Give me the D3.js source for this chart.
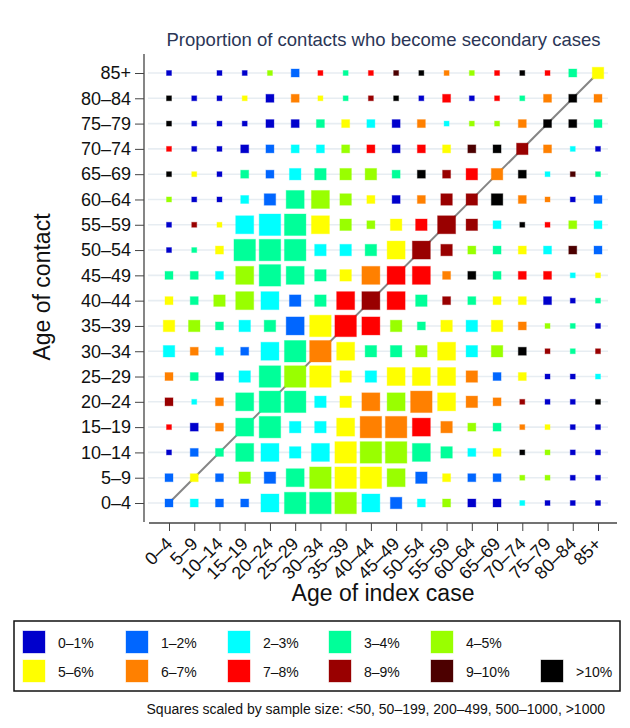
<!DOCTYPE html>
<html>
<head>
<meta charset="utf-8">
<script src="https://cdn.jsdelivr.net/npm/d3@7"></script>
<style>
  body { margin: 0; background: #fff; }
  text { font-family: "Liberation Sans", Arial, Helvetica, sans-serif; }
</style>
</head>
<body>
<div id="plot"></div>
<script>
// age groups, used for both axes
const ageGroups = ["0–4", "5–9", "10–14", "15–19", "20–24", "25–29", "30–34", "35–39", "40–44",
    "45–49", "50–54", "55–59", "60–64", "65–69", "70–74", "75–79", "80–84", "85+"];

const colourBins = ["0–1%", "1–2%", "2–3%", "3–4%", "4–5%", "5–6%", "6–7%", "7–8%", "8–9%", "9–10%", ">10%"];
const binColours = ["#0000cc", "#0066ff", "#00ffff", "#00ff99", "#99ff00", "#ffff00",
    "#ff8000", "#ff0000", "#990000", "#4c0000", "#000000"];

const sizeBins = ["<50", "50–199", "200–499", "500–1000", ">1000"];

// proportion bin (index into colourBins), one row per contact age group (0–4 first),
// one column per index case age group; -1 = no data
const proportionBin = [
    [1, 2, 1, 1, 2, 3, 3, 4, 2, 1, 2, 4, 0, 0, 2, 0, 0, 0],
    [1, 5, 1, 4, 1, 3, 4, 5, 5, 4, 1, 5, 1, 1, 4, 4, 0, 0],
    [0, 1, 3, 3, 2, 2, 2, 5, 4, 4, 3, 3, 2, 5, 10, 4, 0, 0],
    [7, 0, 6, 3, 3, 2, 2, 5, 6, 6, 7, 6, 4, 3, 6, 5, 0, 0],
    [8, 2, 6, 3, 3, 3, 2, 5, 6, 4, 6, 5, 6, 6, 8, 0, 0, 10],
    [6, 3, 0, 2, 3, 4, 5, 5, 2, 5, 5, 5, 6, 1, 5, 0, 0, 2],
    [2, 6, 2, 1, 2, 3, 6, 5, 3, 3, 4, 5, 2, 4, 10, 8, 3, 8],
    [5, 4, 3, 2, 3, 1, 5, 7, 7, 4, 3, 5, 2, 5, 6, 4, 3, 0],
    [5, 3, 4, 4, 2, 1, 3, 7, 8, 7, 3, 8, 3, 5, 5, 0, 0, 3],
    [3, 3, 2, 4, 3, 3, 3, 5, 6, 7, 7, 6, 10, 3, 7, 7, 2, 5],
    [0, 3, 5, 3, 3, 3, 2, 2, 3, 5, 8, 8, 4, 3, 5, 2, 9, 1],
    [0, 8, 5, 2, 2, 3, 5, 4, 4, 5, 7, 8, 8, 2, 10, 7, 4, 2],
    [4, 0, 0, 2, 1, 3, 4, 4, 5, 0, 6, 8, 8, 10, 6, 6, 0, 1],
    [10, 5, 0, 3, 1, 2, 3, 4, 4, 3, 10, 8, 7, 6, 10, 2, 9, 3],
    [7, 0, 0, 0, 1, 2, 2, 4, 7, 0, 7, 5, 9, 10, 8, 6, 2, 0],
    [10, 0, 0, 0, 0, 0, 3, 5, 2, 0, 6, 2, 4, 4, 6, 10, 10, 3],
    [10, 0, 0, 5, 0, 6, 5, 3, 8, 10, 0, 7, 0, 7, 3, 6, 10, 6],
    [0, -1, 0, 0, 4, 1, 7, 3, 7, 9, 10, 6, 4, 7, 10, 7, 3, 5]
];

// sample size bin (index into sizeBins), same layout
const sampleBin = [
    [1, 1, 1, 1, 3, 4, 4, 4, 3, 2, 1, 1, 1, 1, 0, 0, 0, 0],
    [1, 1, 1, 2, 2, 3, 4, 4, 4, 3, 2, 1, 1, 1, 0, 0, 0, 0],
    [0, 1, 1, 3, 3, 2, 3, 4, 4, 4, 3, 2, 1, 1, 0, 0, 0, 0],
    [0, 1, 1, 3, 4, 2, 2, 3, 4, 4, 3, 2, 1, 1, 0, 0, 0, 0],
    [1, 0, 1, 3, 4, 4, 2, 2, 3, 3, 4, 3, 2, 1, 0, 0, 0, 0],
    [1, 1, 1, 2, 4, 4, 4, 2, 2, 3, 3, 3, 2, 1, 1, 0, 0, 0],
    [2, 1, 1, 1, 3, 4, 4, 3, 2, 2, 2, 3, 2, 2, 1, 0, 0, 0],
    [2, 2, 1, 2, 2, 3, 4, 4, 3, 2, 1, 2, 2, 2, 1, 0, 0, 0],
    [1, 1, 2, 3, 3, 2, 2, 3, 3, 3, 2, 1, 1, 1, 1, 1, 0, 0],
    [1, 1, 1, 3, 4, 3, 2, 2, 3, 3, 3, 1, 1, 1, 1, 1, 0, 0],
    [0, 0, 1, 4, 4, 4, 2, 2, 2, 3, 3, 2, 1, 1, 1, 1, 1, 1],
    [0, 0, 0, 3, 4, 4, 3, 2, 1, 2, 2, 3, 2, 1, 0, 0, 1, 1],
    [0, 0, 0, 1, 2, 3, 3, 2, 1, 1, 1, 2, 2, 2, 1, 0, 0, 1],
    [0, 0, 0, 1, 1, 2, 2, 2, 2, 1, 1, 1, 2, 2, 1, 0, 0, 0],
    [0, 0, 0, 1, 1, 1, 1, 1, 1, 1, 1, 1, 1, 1, 2, 1, 0, 0],
    [0, 0, 0, 0, 1, 1, 1, 1, 1, 1, 1, 0, 0, 0, 1, 1, 1, 1],
    [0, 0, 0, 0, 1, 1, 0, 0, 0, 0, 0, 1, 0, 0, 0, 1, 1, 1],
    [0, -1, 0, 0, 0, 1, 0, 0, 0, 0, 0, 0, 0, 0, 0, 0, 1, 2]
];

const width = 630, height = 728;

const svg = d3.select("#plot")
    .append("svg")
    .attr("width", width)
    .attr("height", height);

const x = d3.scalePoint().domain(ageGroups).range([169, 598]);
const y = d3.scalePoint().domain(ageGroups).range([503, 73]);
const colour = d3.scaleOrdinal().domain(colourBins).range(binColours);
const side = d3.scaleOrdinal().domain(sizeBins).range([5, 8, 11.5, 18, 21.5]);

const cells = [];
proportionBin.forEach((row, r) => {
    row.forEach((p, c) => {
        if (p < 0) return;
        cells.push({contact: ageGroups[r], index: ageGroups[c], bin: colourBins[p], n: sizeBins[sampleBin[r][c]]});
    });
});

// light row guides
svg.append("g")
    .selectAll("line")
    .data(ageGroups)
    .join("line")
    .attr("x1", 148)
    .attr("x2", 608)
    .attr("y1", d => y(d))
    .attr("y2", d => y(d))
    .attr("stroke", "#e7edf2")
    .attr("stroke-width", 1.6);

// diagonal: index age == contact age
svg.append("line")
    .attr("x1", x(ageGroups[0]))
    .attr("y1", y(ageGroups[0]))
    .attr("x2", x(ageGroups[ageGroups.length - 1]))
    .attr("y2", y(ageGroups[ageGroups.length - 1]))
    .attr("stroke", "#858585")
    .attr("stroke-width", 2);

svg.append("g")
    .selectAll("rect")
    .data(cells)
    .join("rect")
    .attr("x", d => x(d.index) - side(d.n) / 2)
    .attr("y", d => y(d.contact) - side(d.n) / 2)
    .attr("width", d => side(d.n))
    .attr("height", d => side(d.n))
    .attr("fill", d => colour(d.bin))
    .attr("stroke", d => colour(d.bin))
    .attr("stroke-opacity", 0.35)
    .attr("stroke-width", 1);

// axes
const yAxis = svg.append("g")
    .attr("transform", "translate(144,0)")
    .call(d3.axisLeft(y).tickSize(9).tickPadding(4));
yAxis.select(".domain").attr("d", "M0,54V522");
yAxis.selectAll("line").attr("stroke", "#444");
yAxis.select(".domain").attr("stroke", "#444").attr("stroke-width", 1.3);
yAxis.selectAll("text")
    .style("font-size", "18px")
    .attr("fill", "#111");

const xAxis = svg.append("g")
    .attr("transform", "translate(0,523)")
    .call(d3.axisBottom(x).tickSize(8));
xAxis.select(".domain").attr("d", "M149,0H617").attr("stroke", "#444").attr("stroke-width", 1.3);
xAxis.selectAll("line").attr("stroke", "#444");
xAxis.selectAll("text")
    .style("font-size", "18px")
    .attr("fill", "#111")
    .attr("text-anchor", "end")
    .attr("y", 0)
    .attr("dy", 0)
    .attr("transform", "translate(4,22) rotate(-45)");

svg.append("text")
    .attr("x", 383)
    .attr("y", 601)
    .attr("text-anchor", "middle")
    .style("font-size", "23px")
    .attr("fill", "#111")
    .text("Age of index case");

svg.append("text")
    .attr("transform", "translate(50,287) rotate(-90)")
    .attr("text-anchor", "middle")
    .style("font-size", "23px")
    .attr("fill", "#111")
    .text("Age of contact");

svg.append("text")
    .attr("x", 383.5)
    .attr("y", 46)
    .attr("text-anchor", "middle")
    .style("font-size", "18.5px")
    .attr("fill", "#2b3656")
    .text("Proportion of contacts who become secondary cases");

// legend
svg.append("rect")
    .attr("x", 14)
    .attr("y", 621)
    .attr("width", 606)
    .attr("height", 70)
    .attr("fill", "none")
    .attr("stroke", "#111")
    .attr("stroke-width", 1.5);

const legendCols = [23, 126, 228, 329, 431, 541];
const legend = svg.append("g")
    .selectAll("g")
    .data(colourBins)
    .join("g")
    .attr("transform", (d, i) => {
        const row = i < 5 ? 0 : 1, col = i < 5 ? i : i - 5;
        return `translate(${legendCols[col]},${631 + row * 29})`;
    });

legend.append("rect")
    .attr("width", 22)
    .attr("height", 22)
    .attr("fill", d => colour(d))
    .attr("stroke", d => colour(d))
    .attr("stroke-opacity", 0.35);

legend.append("text")
    .attr("x", 35)
    .attr("y", 17)
    .style("font-size", "14px")
    .attr("fill", "#111")
    .text(d => d);

svg.append("text")
    .attr("x", 605)
    .attr("y", 714)
    .attr("text-anchor", "end")
    .style("font-size", "14px")
    .attr("fill", "#111")
    .text("Squares scaled by sample size: " + sizeBins.join(", "));
</script>
</body>
</html>
